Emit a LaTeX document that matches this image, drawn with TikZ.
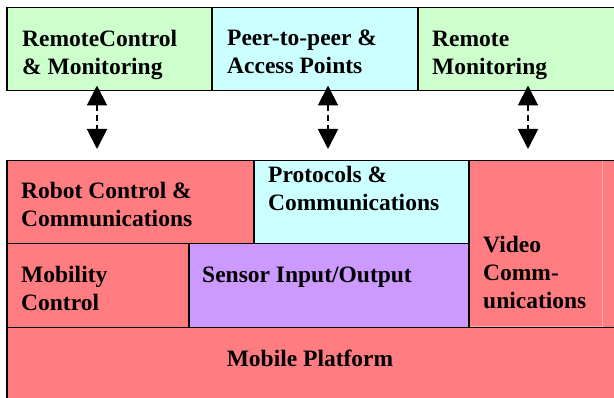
\documentclass[tikz,border=0pt]{standalone}
\usepackage{fontspec}
\setmainfont{Liberation Serif}
\usepackage{tikz}
\usetikzlibrary{arrows.meta}
\definecolor{lgreen}{HTML}{CCFFCC}
\definecolor{lcyan}{HTML}{CCFFFF}
\definecolor{coral}{HTML}{FF7C80}
\definecolor{lilac}{HTML}{CC99FF}
\definecolor{paleline}{HTML}{FFAEB0}
\tikzset{
    box/.style={rectangle,draw=black,line width=1.5pt,inner sep=0pt,anchor=north west},
    lbl/.style={anchor=base west,inner sep=0pt,align=left,font=\bfseries\fontsize{23.5}{28}\selectfont},
    link/.style={line width=2pt,dash pattern=on 6pt off 4pt,{Triangle[length=20pt,width=20pt]}-{Triangle[length=20pt,width=20pt]}}
}

\begin{document}
\begin{tikzpicture}[x=1pt,y=1pt]
        \useasboundingbox (0,0) rectangle (614,398);
        \clip (0,0) rectangle (614,398);
        \node[box,fill=lgreen,minimum width=205,minimum height=83] (rcm) at (6,391) {};
        \node[box,fill=lcyan,minimum width=206,minimum height=83] (p2p) at (211,391) {};
        \node[box,fill=lgreen,minimum width=210,minimum height=83] (rmon) at (417,391) {};
        \node[box,fill=coral,minimum width=620,minimum height=245] (stack) at (6,238) {};
        \node[box,draw=none,fill=coral,minimum width=133,minimum height=164] (video) at (468,237) {};
        \draw[paleline,line width=1pt] (video.north east) |- (video.south west);
        \node[box,fill=coral,minimum width=247,minimum height=83] (rcc) at (6,238) {};
        \node[box,fill=lcyan,minimum width=215,minimum height=83] (proto) at (253,238) {};
        \node[box,fill=coral,minimum width=182,minimum height=84] (mob) at (6,155) {};
        \node[box,fill=lilac,minimum width=280,minimum height=84] (sensor) at (188,155) {};
        \node[box,fill=coral,minimum width=620,minimum height=80] (plat) at (6,71) {};
        \coordinate (e1) at (97,249);
        \coordinate (e2) at (328,249);
        \coordinate (e3) at (528,249);
        \draw[link] ([yshift=6pt]rcm.south -| e1) -- (e1);
        \draw[link] ([yshift=6pt]p2p.south -| e2) -- (e2);
        \draw[link] ([yshift=6pt]rmon.south -| e3) -- (e3);
        \node[lbl] (rcmt) at (22,323) {RemoteControl\\\& Monitoring};
        \node[lbl] (p2pt) at (227,324) {Peer-to-peer \&\\Access Points};
        \node[lbl] (rmont) at (432,323) {Remote\\Monitoring};
        \node[lbl] (rcct) at (21,171) {Robot Control \&\\Communications};
        \node[lbl] (protot) at (268,187) {Protocols \&\\Communications};
        \node[lbl] (mobt) at (21,87) {Mobility\\Control};
        \node[lbl] (sensort) at (202,115) {Sensor Input/Output};
        \node[lbl] (videot) at (483,89) {Video\\Comm-\\unications};
        \node[lbl,anchor=base] (platt) at (310,31) {Mobile Platform};
    \end{tikzpicture}
\end{document}
